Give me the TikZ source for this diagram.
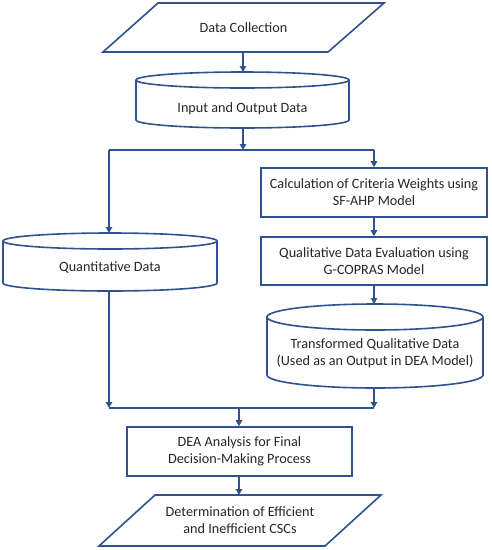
\documentclass[tikz,border=0pt]{standalone}
\usepackage{fontspec}
\setmainfont{Carlito}
\usetikzlibrary{arrows.meta,calc}
\definecolor{fc}{RGB}{47,82,143}
\definecolor{tc}{RGB}{38,38,38}
\begin{document}
\begin{tikzpicture}[x=1pt,y=-1pt,
  shapeline/.style={draw=fc,line width=1.6pt,line join=miter},
  conn/.style={draw=fc,line width=1.3pt,-{Triangle[width=6.5pt,length=6pt]}},
  plain/.style={draw=fc,line width=1.3pt},
  bbox/.style={inner sep=0pt,outer sep=0pt},
  txt/.style={text=tc,font=\fontsize{14.2}{17}\selectfont,align=center,inner sep=0pt},
  procbox/.style={shapeline,txt,fill=white}
]
\useasboundingbox (0,0) rectangle (491,550);

% Data Collection (parallelogram)
\node[bbox,minimum width=281pt,minimum height=49pt] (dc) at (243.5,27.5) {};
\draw[shapeline] ($(dc.north west)+(55pt,0)$) -- (dc.north east) -- ($(dc.south east)+(-56pt,0)$) -- (dc.south west) -- cycle;
\node[txt] at (dc.center) {Data Collection};

% Input and Output Data (cylinder)
\node[bbox,minimum width=213pt,minimum height=56pt] (io) at (242.5,100) {};
\draw[shapeline] (242.5,80) ellipse [x radius=106.5pt,y radius=8pt];
\draw[shapeline] (136,80) -- (136,120) arc[start angle=180,end angle=360,x radius=106.5pt,y radius=8pt] -- (349,80);
\node[txt] at (242.5,109) {Input and Output Data};

% split
\coordinate (s1) at (243,150);
\coordinate (s1l) at (109,150);
\coordinate (s1r) at (374,150);

% Criteria weights box
\node[procbox,minimum width=226pt,minimum height=49pt] (cw) at (374,192.5) {Calculation of Criteria Weights using\\SF-AHP Model};
% Qualitative evaluation box
\node[procbox,minimum width=226pt,minimum height=48pt] (qe) at (374,261) {Qualitative Data Evaluation using\\G-COPRAS Model};

% Quantitative Data cylinder
\node[bbox,minimum width=214pt,minimum height=58pt] (qd) at (110,262) {};
\draw[shapeline] (110,241) ellipse [x radius=107pt,y radius=8pt];
\draw[shapeline] (3,241) -- (3,283) arc[start angle=180,end angle=360,x radius=107pt,y radius=8pt] -- (217,241);
\node[txt] at (110,268) {Quantitative Data};

% Transformed Qualitative Data cylinder
\node[bbox,minimum width=216pt,minimum height=84pt] (tq) at (375,346) {};
\draw[shapeline] (375,317) ellipse [x radius=108pt,y radius=13pt];
\draw[shapeline] (267,317) -- (267,375) arc[start angle=180,end angle=360,x radius=108pt,y radius=13pt] -- (483,317);
\node[txt] at (375,353.5) {Transformed Qualitative Data\\(Used as an Output in DEA Model)};

% merge
\coordinate (m1) at (239,408);
\coordinate (m1l) at (109,408);
\coordinate (m1r) at (374,408);

% DEA box
\node[procbox,minimum width=225pt,minimum height=49pt] (dea) at (239.5,451.5) {DEA Analysis for Final\\Decision-Making Process};

% Result parallelogram
\node[bbox,minimum width=282pt,minimum height=51pt] (res) at (240,520.5) {};
\draw[shapeline] ($(res.north west)+(56pt,0)$) -- (res.north east) -- ($(res.south east)+(-56pt,0)$) -- (res.south west) -- cycle;
\node[txt] at (res.center) {Determination of Efficient\\and Inefficient CSCs};

% connectors
\draw[conn] (dc.south -| s1) -- (io.north -| s1);
\draw[conn] (io.south -| s1) -- (s1);
\draw[plain] (s1l) -- (s1r);
\draw[conn] (s1r) -- (cw.north);
\draw[conn] (s1l) -- (s1l |- qd.north);
\draw[conn] (cw.south) -- (qe.north);
\draw[conn] (qe.south) -- (qe.south |- tq.north);
\draw[conn] (qd.south -| m1l) -- (m1l);
\draw[conn] (tq.south -| m1r) -- (m1r);
\draw[plain] (m1l) -- (m1r);
\draw[conn] (m1) -- (dea.north -| m1);
\draw[conn] (dea.south -| m1) -- (res.north -| m1);
\end{tikzpicture}
\end{document}
